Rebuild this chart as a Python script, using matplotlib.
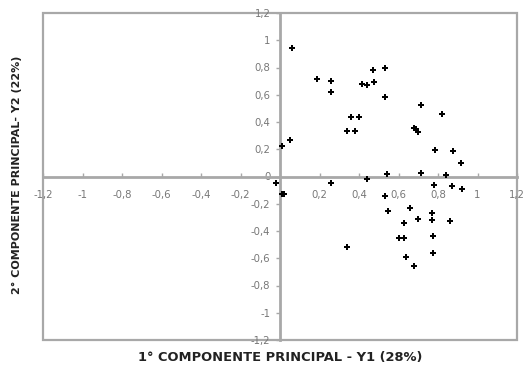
import matplotlib
matplotlib.use("Agg")
import matplotlib.pyplot as plt
from matplotlib.patches import Rectangle

x_vals = [0.059, 0.188, 0.257, 0.257, 0.469, 0.531, 0.413, 0.438, 0.477, 0.531,
          0.357, 0.400, 0.337, 0.379, 0.012, 0.049, 0.712, 0.819, 0.680, 0.700,
          0.690, 0.787, 0.878, 0.917, 0.540, 0.712, 0.838, 0.438, -0.019, 0.008,
          0.020, 0.260, 0.531, 0.780, 0.870, 0.919, 0.548, 0.658, 0.630, 0.700,
          0.770, 0.770, 0.860, 0.600, 0.628, 0.777, 0.337, 0.638, 0.678, 0.777]
y_vals = [0.940, 0.717, 0.700, 0.620, 0.780, 0.800, 0.680, 0.668, 0.690, 0.580,
          0.435, 0.440, 0.337, 0.337, 0.226, 0.270, 0.528, 0.460, 0.356, 0.324,
          0.345, 0.197, 0.190, 0.098, 0.017, 0.029, 0.012, -0.020, -0.050, -0.125,
          -0.130, -0.050, -0.140, -0.060, -0.070, -0.090, -0.250, -0.230, -0.340, -0.310,
          -0.270, -0.320, -0.330, -0.455, -0.455, -0.440, -0.520, -0.590, -0.660, -0.560]

x_ticks = [-1.2, -1.0, -0.8, -0.6, -0.4, -0.2, 0.2, 0.4, 0.6, 0.8, 1.0, 1.2]
x_tick_labels = ["-1,2", "-1", "-0,8", "-0,6", "-0,4", "-0,2", "0,2", "0,4", "0,6", "0,8", "1", "1,2"]
y_ticks = [-1.2, -1.0, -0.8, -0.6, -0.4, -0.2, 0.0, 0.2, 0.4, 0.6, 0.8, 1.0, 1.2]
y_tick_labels = ["-1,2", "-1", "-0,8", "-0,6", "-0,4", "-0,2", "0", "0,2", "0,4", "0,6", "0,8", "1", "1,2"]

x_label = "1° COMPONENTE PRINCIPAL - Y1 (28%)"
y_label = "2° COMPONENTE PRINCIPAL- Y2 (22%)"

plt.rcParams['font.family'] = ['DejaVu Sans']

fig = plt.figure(figsize=(5.3, 3.68), dpi=100)
ax = fig.add_axes([43/530, 28/368, 474/530, 327/368])
ax.set_xlim(-1.2, 1.2)
ax.set_ylim(-1.2, 1.2)

gray = "#a8a8a8"
for s in ['top', 'right']:
    ax.spines[s].set_visible(False)
ax.spines['left'].set_position('zero')
ax.spines['bottom'].set_position('zero')
ax.spines['left'].set_color(gray)
ax.spines['bottom'].set_color(gray)
ax.spines['left'].set_linewidth(2.0)
ax.spines['bottom'].set_linewidth(2.0)

frame = Rectangle((0, 0), 1, 1, transform=ax.transAxes, fill=False,
                  edgecolor=gray, linewidth=1.6, clip_on=False, zorder=0.5)
ax.add_patch(frame)

ax.set_xticks(x_ticks)
ax.set_xticklabels(x_tick_labels)
ax.set_yticks(y_ticks)
ax.set_yticklabels(y_tick_labels)
ax.tick_params(axis='x', direction='in', length=3, width=1, color=gray,
               labelsize=7.3, labelcolor="#777777", pad=10)
ax.tick_params(axis='y', direction='out', length=3, width=1, color=gray,
               labelsize=7.3, labelcolor="#777777", pad=4)

ax.plot(x_vals, y_vals, linestyle='none', marker='P', markersize=4.5,
        color='black', markeredgewidth=0, zorder=3, clip_on=False)

fig.text(280/530, 1 - 357/368, x_label, ha='center', va='center',
         fontsize=9.4, fontweight='bold', color='#222222')
fig.text(17/530, 1 - 175/368, y_label, ha='center', va='center', rotation=90,
         fontsize=8.0, fontweight='bold', color='#222222')

fig.savefig("out.png", dpi=100)
